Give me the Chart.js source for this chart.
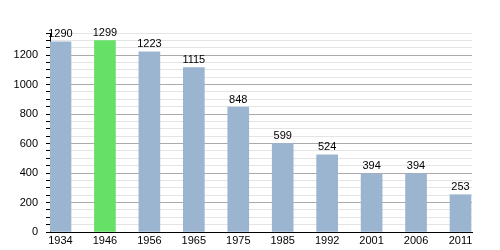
<!DOCTYPE html>
<html>
<head>
<meta charset="utf-8">
<script src="https://cdn.jsdelivr.net/npm/chart.js@4"></script>
<style>
  html, body { margin: 0; padding: 0; background: #fff; }
  #wrap { width: 500px; height: 250px; }
</style>
</head>
<body>
<div id="wrap"><canvas id="myChart" width="500" height="250"></canvas></div>
<script>
const years = ['1934', '1946', '1956', '1965', '1975', '1985', '1992', '2001', '2006', '2011'];
const population = [1290, 1299, 1223, 1115, 848, 599, 524, 394, 394, 253];
const highlightIndex = 1;

const blue = '#9bb4d0';
const green = '#66e066';

// value labels on top of each bar
const valueLabels = {
    id: 'valueLabels',
    afterDatasetsDraw(chart) {
        const ctx = chart.ctx;
        const meta = chart.getDatasetMeta(0);
        ctx.save();
        ctx.font = '11px "Liberation Sans", Arial, sans-serif';
        ctx.fillStyle = '#000';
        ctx.textAlign = 'center';
        ctx.textBaseline = 'bottom';
        meta.data.forEach((bar, i) => {
            ctx.fillText(population[i], bar.x, bar.y - 2);
        });
        ctx.restore();
    }
};

const ctx = document.getElementById('myChart').getContext('2d');
new Chart(ctx, {
    type: 'bar',
    data: {
        datasets: [{
            data: population.map((v, i) => ({ x: i, y: v })),
            backgroundColor: population.map((v, i) => i === highlightIndex ? green : blue),
            barThickness: 21
        }]
    },
    options: {
        responsive: false,
        animation: false,
        layout: { padding: { top: 33, right: 28, left: 0, bottom: 0 } },
        plugins: { legend: { display: false }, tooltip: { enabled: false } },
        scales: {
            x: {
                type: 'linear',
                offset: false,
                min: -0.236,
                max: 9.259,
                afterBuildTicks: (scale) => {
                    scale.ticks = years.map((y, i) => ({ value: i }));
                },
                afterFit: (scale) => { scale.height = 18; },
                grid: { display: false, drawTicks: false, offset: false },
                border: { color: '#000', width: 1 },
                ticks: {
                    callback: (v) => years[v],
                    color: '#000',
                    padding: 2,
                    autoSkip: false,
                    maxRotation: 0,
                    font: { family: '"Liberation Sans", Arial, sans-serif', size: 11 }
                }
            },
            y: {
                min: 0,
                max: 1350,
                afterFit: (scale) => { scale.width = 50; },
                border: { color: '#000', width: 1 },
                grid: {
                    color: (c) => c.tick && c.tick.value % 200 === 0 ? '#aaaaaa' : '#e4e4e4',
                    tickColor: '#000',
                    tickLength: 4
                },
                ticks: {
                    stepSize: 50,
                    autoSkip: false,
                    color: '#000',
                    padding: 8,
                    callback: (v) => v % 200 === 0 ? v : '',
                    font: { family: '"Liberation Sans", Arial, sans-serif', size: 11 }
                }
            }
        }
    },
    plugins: [valueLabels]
});
</script>
</body>
</html>
